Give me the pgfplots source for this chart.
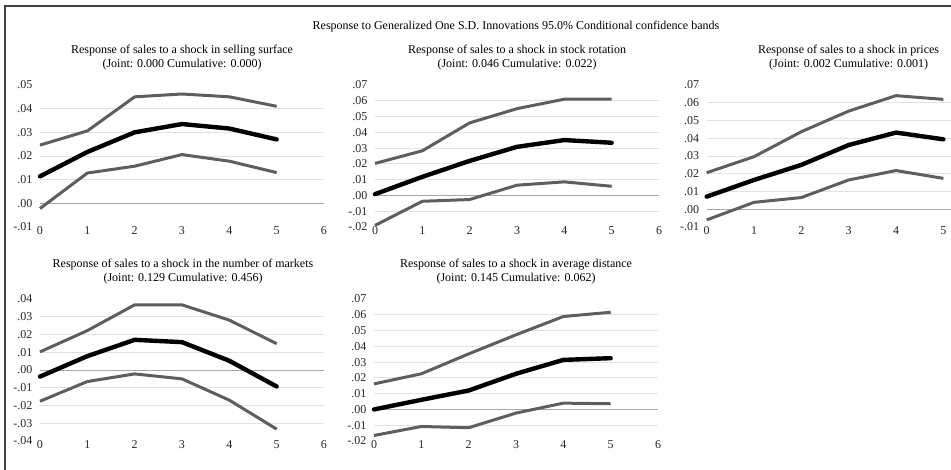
\documentclass[border=0pt]{standalone}
\usepackage{fontspec}
\setmainfont{Liberation Serif}
\usepackage{pgfplots}
\pgfplotsset{compat=1.18}
\definecolor{band}{HTML}{5E5E5E}
\definecolor{gridc}{HTML}{E2E2E2}
\definecolor{zeroc}{HTML}{A8A8A8}
\newcommand{\fs}{\fontsize{12}{14}\selectfont}
\pgfplotsset{
  irf/.style={
    scale only axis, width=284pt, height=142pt, xmin=0, xmax=6,
    axis line style={draw=none}, major tick length=0pt,
    scaled y ticks=false, scaled x ticks=false,
    xtick={0,1,2,3,4,5,6}, xticklabels={0,1,2,3,4,5,6},
    tick label style={font=\fs, text=black!85},
    yticklabel style={xshift=-4pt}, xticklabel style={yshift=4pt},
    clip=false, anchor=south west,
    extra y tick style={grid=major, major grid style={gridc, line width=0.8pt}},
    extra y tick labels={},
  },
  mid/.style={black, line width=4.4pt, line join=round, line cap=round},
  bnd/.style={band, line width=3pt, line join=round},
}
\begin{document}
\begin{tikzpicture}[x=1pt,y=1pt]
\useasboundingbox (0pt,0pt) rectangle (951pt,469pt);
\clip (0pt,0pt) rectangle (951pt,469pt);
\draw[black!75, line width=1.6pt] (5pt,-2pt) -- (5pt,463pt) -- (955pt,463pt);
\node[font=\fs] at (516pt,442pt) {Response to Generalized One S.D. Innovations 95.0\% Conditional confidence bands};

% Panel 1
\node[font=\fs] at (182pt,418.5pt) {Response of sales to a shock in selling surface};
\node[font=\fs] at (182pt,404.5pt) {(Joint: 0.000 Cumulative: 0.000)};
\begin{axis}[irf, at={(40pt,242pt)}, ymin=-0.01, ymax=0.05,
  ytick={-0.01,0,0.01,0.02,0.03,0.04,0.05},
  yticklabels={-.01,.00,.01,.02,.03,.04,.05},
  extra y ticks={0.01,0.02,0.03,0.04}]
\draw[zeroc, line width=1pt] (axis cs:0,0) -- (axis cs:6,0);
\addplot[bnd] coordinates {(0,0.0246) (1,0.0306) (2,0.0450) (3,0.0462) (4,0.0450) (5,0.0410)};
\addplot[bnd] coordinates {(0,-0.0022) (1,0.0128) (2,0.0157) (3,0.0206) (4,0.0178) (5,0.0130)};
\addplot[mid] coordinates {(0,0.0114) (1,0.0217) (2,0.0300) (3,0.0335) (4,0.0316) (5,0.0270)};
\end{axis}

% Panel 2
\node[font=\fs] at (517pt,418.5pt) {Response of sales to a shock in stock rotation};
\node[font=\fs] at (517pt,404.5pt) {(Joint: 0.046 Cumulative: 0.022)};
\begin{axis}[irf, at={(375pt,242pt)}, ymin=-0.02, ymax=0.07,
  ytick={-0.02,-0.01,0,0.01,0.02,0.03,0.04,0.05,0.06,0.07},
  yticklabels={-.02,-.01,.00,.01,.02,.03,.04,.05,.06,.07},
  extra y ticks={-0.01,0.01,0.02,0.03,0.04,0.05,0.06}]
\draw[zeroc, line width=1pt] (axis cs:0,0) -- (axis cs:6,0);
\addplot[bnd] coordinates {(0,0.0203) (1,0.0283) (2,0.0460) (3,0.0550) (4,0.0610) (5,0.0610)};
\addplot[bnd] coordinates {(0,-0.0190) (1,-0.0037) (2,-0.0026) (3,0.0065) (4,0.0086) (5,0.0058)};
\addplot[mid] coordinates {(0,0.0008) (1,0.0118) (2,0.0219) (3,0.0308) (4,0.0351) (5,0.0334)};
\end{axis}

% Panel 3
\node[font=\fs] at (848.6pt,418.5pt) {Response of sales to a shock in prices};
\node[font=\fs] at (848.6pt,404.5pt) {(Joint: 0.002 Cumulative: 0.001)};
\begin{axis}[irf, at={(706.7pt,242pt)}, ymin=-0.01, ymax=0.07,
  ytick={-0.01,0,0.01,0.02,0.03,0.04,0.05,0.06,0.07},
  yticklabels={-.01,.00,.01,.02,.03,.04,.05,.06,.07},
  extra y ticks={0.01,0.02,0.03,0.04,0.05,0.06}]
\draw[zeroc, line width=1pt] (axis cs:0,0) -- (axis cs:6,0);
\addplot[bnd] coordinates {(0,0.0206) (1,0.0296) (2,0.0437) (3,0.0553) (4,0.0640) (5,0.0619)};
\addplot[bnd] coordinates {(0,-0.0060) (1,0.0039) (2,0.0066) (3,0.0165) (4,0.0218) (5,0.0174)};
\addplot[mid] coordinates {(0,0.0071) (1,0.0165) (2,0.0250) (3,0.0362) (4,0.0432) (5,0.0394)};
\end{axis}

% Panel 4
\node[font=\fs] at (183pt,204.5pt) {Response of sales to a shock in the number of markets};
\node[font=\fs] at (183pt,190.5pt) {(Joint: 0.129 Cumulative: 0.456)};
\begin{axis}[irf, at={(40pt,28pt)}, ymin=-0.04, ymax=0.04,
  ytick={-0.04,-0.03,-0.02,-0.01,0,0.01,0.02,0.03,0.04},
  yticklabels={-.04,-.03,-.02,-.01,.00,.01,.02,.03,.04},
  extra y ticks={-0.03,-0.02,-0.01,0.01,0.02,0.03}]
\draw[zeroc, line width=1pt] (axis cs:0,0) -- (axis cs:6,0);
\addplot[bnd] coordinates {(0,0.0102) (1,0.0222) (2,0.0367) (3,0.0367) (4,0.0281) (5,0.0148)};
\addplot[bnd] coordinates {(0,-0.0176) (1,-0.0065) (2,-0.0022) (3,-0.0050) (4,-0.0170) (5,-0.0333)};
\addplot[mid] coordinates {(0,-0.0037) (1,0.0078) (2,0.0170) (3,0.0157) (4,0.0052) (5,-0.0093)};
\end{axis}

% Panel 5
\node[font=\fs] at (516pt,204.5pt) {Response of sales to a shock in average distance};
\node[font=\fs] at (516pt,190.5pt) {(Joint: 0.145 Cumulative: 0.062)};
\begin{axis}[irf, at={(374pt,28pt)}, ymin=-0.02, ymax=0.07,
  ytick={-0.02,-0.01,0,0.01,0.02,0.03,0.04,0.05,0.06,0.07},
  yticklabels={-.02,-.01,.00,.01,.02,.03,.04,.05,.06,.07},
  extra y ticks={-0.01,0.01,0.02,0.03,0.04,0.05,0.06}]
\draw[zeroc, line width=1pt] (axis cs:0,0) -- (axis cs:6,0);
\addplot[bnd] coordinates {(0,0.0162) (1,0.0226) (2,0.0352) (3,0.0473) (4,0.0589) (5,0.0616)};
\addplot[bnd] coordinates {(0,-0.0165) (1,-0.0108) (2,-0.0116) (3,-0.0023) (4,0.0040) (5,0.0036)};
\addplot[mid] coordinates {(0,0.0000) (1,0.0061) (2,0.0120) (3,0.0226) (4,0.0314) (5,0.0325)};
\end{axis}
\end{tikzpicture}
\end{document}
